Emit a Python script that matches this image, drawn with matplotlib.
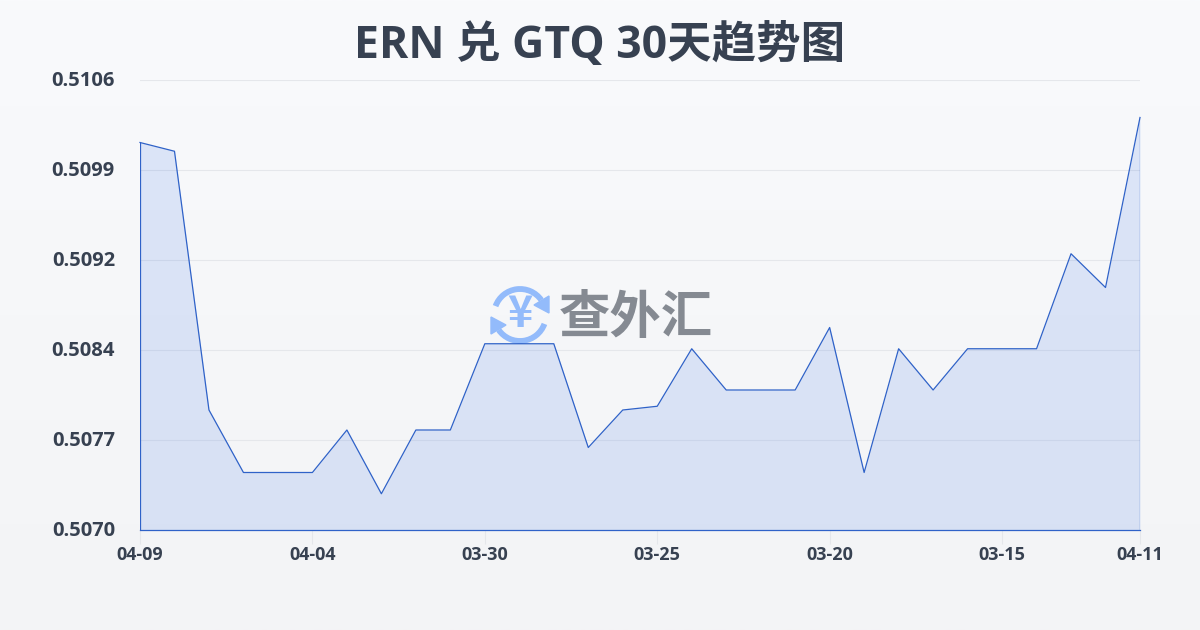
import numpy as np
from matplotlib import pyplot as plt
from matplotlib.colors import LinearSegmentedColormap
from matplotlib.patches import Arc, Polygon
from matplotlib.transforms import ScaledTranslation

plt.rcParams['font.family'] = ['Open Sans', 'Noto Sans CJK SC', 'DejaVu Sans']

# values, oldest label on the left as in the original
rates = [0.51010, 0.51003, 0.50796, 0.50746, 0.50746, 0.50746, 0.50780, 0.50729,
         0.50780, 0.50780, 0.50849, 0.50849, 0.50849, 0.50766, 0.50796, 0.50799,
         0.50845, 0.50812, 0.50812, 0.50812, 0.50862, 0.50746, 0.50845, 0.50812,
         0.50845, 0.50845, 0.50845, 0.50921, 0.50894, 0.51030]
x_pos = [0, 5, 10, 15, 20, 25, 29]
x_labels = ['04-09', '04-04', '03-30', '03-25', '03-20', '03-15', '04-11']
y_ticks = [0.5070, 0.5077, 0.5084, 0.5092, 0.5099, 0.5106]
y_min = 0.5070
y_max = 0.5106
title = 'ERN 兑 GTQ 30天趋势图'

text_color = '#374151'
line_color = '#2f62c8'

fig = plt.figure(figsize=(12, 6.3), dpi=100)

# page background, soft vertical gradient
bg = fig.add_axes([0, 0, 1, 1], zorder=0)
bg.imshow(np.linspace(0, 1, 256).reshape(-1, 1), aspect='auto', extent=[0, 1200, 630, 0],
          cmap=LinearSegmentedColormap.from_list('bg', ['#f9fafc', '#f3f4f6']))
bg.set_xlim(0, 1200)
bg.set_ylim(630, 0)
bg.axis('off')

# watermark sits between the background and the chart
arc_color = '#93bbfb'
for start, end in [(200, 325), (20, 145)]:
    bg.add_patch(Arc((520, 315), 52, 52, theta1=start, theta2=end, color=arc_color, lw=4.2))
bg.add_patch(Polygon([[549, 296], [549, 313], [534, 305]], color=arc_color))
bg.add_patch(Polygon([[491, 334], [491, 317], [506, 325]], color=arc_color))
bg.text(520, 314, '¥', color=arc_color, fontsize=31, fontweight='black', ha='center', va='center',
        family='Noto Sans CJK SC')
bg.text(636, 318, '查外汇', color='#858a92', fontsize=37, fontweight='black', ha='center', va='center',
        family='Noto Sans CJK SC')

ax = fig.add_axes([140 / 1200, 100 / 630, 1000 / 1200, 450 / 630], zorder=1)
ax.patch.set_alpha(0)
x = np.arange(len(rates))
ax.fill_between(x, rates, y_min, color='#3b74e8', alpha=0.15, lw=0)
ax.plot(x, rates, color=line_color, lw=0.9, clip_on=False)
ax.plot([0, 0], [y_min, rates[0]], color=line_color, lw=0.9)
ax.plot([x[-1], x[-1]], [y_min, rates[-1]], color=line_color, lw=0.9)
ax.plot([0, x[-1]], [y_min, y_min], color=line_color, lw=0.9, clip_on=False)

ax.set_xlim(0, len(rates) - 1)
ax.set_ylim(y_min, y_max)
ax.set_xticks(x_pos)
ax.set_xticklabels(x_labels)
ax.set_yticks(np.linspace(y_min, y_max, 6))
ax.set_yticklabels(['%.4f' % v for v in y_ticks])
ax.tick_params(axis='x', length=10, width=0.8, color='#e5e7eb', pad=1.5, labelsize=13, labelcolor=text_color)
ax.tick_params(axis='y', length=0, pad=18, labelsize=14.5, labelcolor=text_color)
for lab in ax.get_xticklabels() + ax.get_yticklabels():
    lab.set_fontweight('bold')
for lab in ax.get_yticklabels():
    lab.set_transform(lab.get_transform() + ScaledTranslation(0, 2 / 100, fig.dpi_scale_trans))
ax.grid(axis='y', color='#e5e7eb', lw=0.8)
ax.set_axisbelow(True)
for s in ['top', 'bottom', 'left', 'right']:
    ax.spines[s].set_visible(False)

fig.text(0.5, 1 - 46.5 / 630, title, color=text_color, fontsize=32, fontweight='bold', ha='center', va='center')

plt.savefig('out.png', dpi=100)
